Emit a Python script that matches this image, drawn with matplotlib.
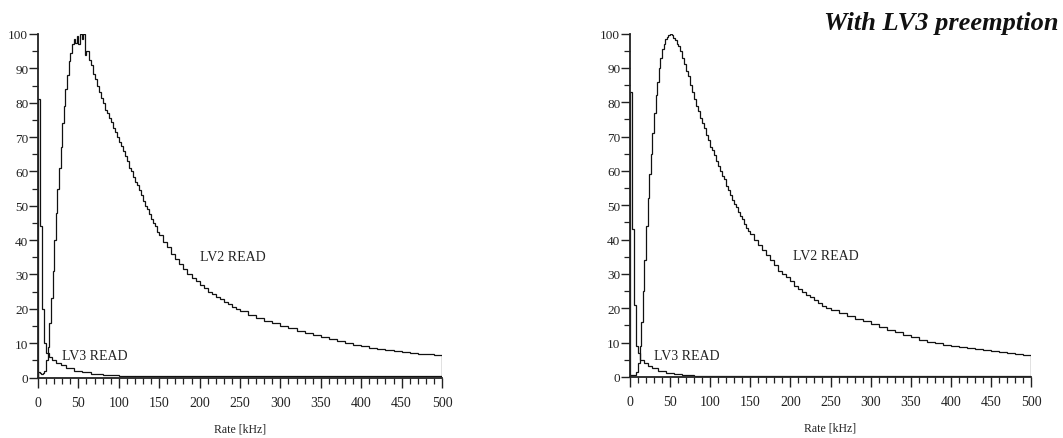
import numpy as np
import matplotlib
matplotlib.use("Agg")
import matplotlib.pyplot as plt
from matplotlib.ticker import MultipleLocator

# ---------------- data ----------------
# LV2 bin edges (kHz): 2 kHz to 60, 2.5 kHz to 150, 5 kHz to 250, 10 kHz to 500
lv2_edges = np.concatenate([np.arange(0, 60, 2), np.arange(60, 150, 2.5),
                            np.arange(150, 250, 5), np.arange(250, 501, 10)])

lv2_no_preempt = [
    # 0-60 (2 kHz)
    1.5, 1.2, 1.0, 1.2, 2, 5, 9, 16, 23, 31, 40, 48, 55, 61, 67, 74, 79, 84, 88, 92,
    94.5, 97, 98.5, 97.5, 99.5, 97, 100, 98.5, 100, 94,
    # 60-150 (2.5 kHz)
    95, 92.5, 91, 88.5, 87, 85, 83, 81.5, 80, 78, 77, 75.5, 74.5, 72.5, 71.5, 70,
    68.5, 67.5, 66, 64.5, 63, 61, 60, 58.5, 57, 56, 54.5, 53, 51.5, 50, 49, 47.5,
    46, 45, 44, 42.5,
    # 150-250 (5 kHz)
    41.5, 39.5, 38, 36, 34.5, 33, 31.5, 30, 29, 28, 27, 26, 25, 24.2, 23.5, 22.8, 22,
    21.3, 20.6, 20,
    # 250-500 (10 kHz)
    19.3, 18.3, 17.4, 16.5, 15.8, 15, 14.3, 13.6, 13, 12.3, 11.7, 11.1, 10.6, 10, 9.5,
    9.1, 8.7, 8.3, 8, 7.7, 7.4, 7.1, 6.9, 6.7, 6.5,
]
lv2_preempt = [
    # 0-60 (2 kHz)
    0.6, 0.5, 0.5, 0.6, 1.5, 4, 9, 16, 25, 34, 44, 52, 59, 65, 71, 77, 82, 86, 90, 93,
    95.5, 97, 98.3, 99, 99.7, 100, 99.5, 98.8, 98, 97,
    # 60-150 (2.5 kHz)
    96.5, 95, 93, 91, 89, 87.5, 85, 83, 81, 79, 77.5, 75.5, 74, 72.5, 70.5, 69,
    67, 66, 64.5, 63, 61.5, 60, 58.5, 57.5, 55.5, 54.5, 53, 51.5, 50.5, 49.5, 48, 47,
    46, 44.5, 43.5, 42.5,
    # 150-250 (5 kHz)
    41.5, 40, 38.5, 37, 35.5, 34, 32.5, 31, 30, 29, 28, 26.5, 25.5, 24.7, 24, 23.2,
    22.5, 21.5, 20.8, 20.2,
    # 250-500 (10 kHz)
    19.5, 18.6, 17.8, 17, 16.2, 15.3, 14.5, 13.7, 13, 12.2, 11.5, 10.9, 10.3, 9.8, 9.3,
    9, 8.7, 8.4, 8.1, 7.8, 7.5, 7.2, 7, 6.8, 6.5,
]

lv3_edges = [0, 3, 5, 7, 10, 13, 17, 22, 28, 35, 45, 55, 65, 80, 100, 500]
lv3_no_preempt = [81, 44, 20, 10, 7, 6, 5, 4.2, 3.5, 2.8, 2.0, 1.5, 1.0, 0.7, 0.4]
lv3_preempt = [83, 43, 21, 9, 7, 5, 4, 3.2, 2.5, 1.8, 1.2, 0.8, 0.5, 0.4, 0.3]

x_ticks = [0, 50, 100, 150, 200, 250, 300, 350, 400, 450, 500]
y_ticks = [0, 10, 20, 30, 40, 50, 60, 70, 80, 90, 100]
x_label = "Rate [kHz]"
title_text = "With LV3 preemption"

# ---------------- figure ----------------
SERIF = ["Liberation Serif", "DejaVu Serif"]
plt.rcParams["font.family"] = SERIF

fig = plt.figure(figsize=(10.63, 4.39), dpi=100)
ax_l = fig.add_axes([38 / 1063, 60.5 / 439, 404 / 1063, 343.5 / 439])
ax_r = fig.add_axes([630 / 1063, 61 / 439, 401 / 1063, 343.5 / 439])

panels = [
    (ax_l, lv2_no_preempt, lv3_no_preempt, (200, 35.2), (29.5, 6.3)),
    (ax_r, lv2_preempt, lv3_preempt, (203, 35.5), (30, 6.3)),
]

for ax, lv2, lv3, lv2_pos, lv3_pos in panels:
    ax.stairs(lv2, lv2_edges, baseline=0, color="#111111", linewidth=0.9)
    ax.stairs(lv3, lv3_edges, baseline=0, color="#111111", linewidth=0.9)
    ax.set_xlim(0, 500)
    ax.set_ylim(0, 100)
    for s in ("top", "right"):
        ax.spines[s].set_visible(False)
    for s in ("left", "bottom"):
        ax.spines[s].set_linewidth(1.3)
        ax.spines[s].set_color("#222222")
    ax.set_xticks(x_ticks)
    ax.set_yticks(y_ticks)
    ax.xaxis.set_minor_locator(MultipleLocator(10))
    ax.yaxis.set_minor_locator(MultipleLocator(5))
    ax.tick_params(axis="x", which="major", direction="out", length=7, width=1.0,
                   pad=6, labelsize=10, colors="#222222")
    ax.tick_params(axis="x", which="minor", direction="out", length=4, width=0.9,
                   colors="#222222")
    ax.tick_params(axis="y", which="major", direction="out", length=6.5, width=1.0,
                   pad=0.5, labelsize=9.5, colors="#222222")
    ax.tick_params(axis="y", which="minor", direction="out", length=4, width=0.9,
                   colors="#222222")
    ax.set_xlabel(x_label, fontsize=8.5, labelpad=10, color="#222222")
    ax.text(lv2_pos[0], lv2_pos[1], "LV2 READ", fontsize=10, ha="left", va="center",
            color="#222222")
    ax.text(lv3_pos[0], lv3_pos[1], "LV3 READ", fontsize=10, ha="left", va="center",
            color="#222222")

fig.text(1059 / 1063, 1 - 30 / 439, title_text, ha="right", va="baseline",
         fontsize=19, fontweight="bold", fontstyle="italic", color="#111111")

fig.savefig("out.png", dpi=100, facecolor="white")
